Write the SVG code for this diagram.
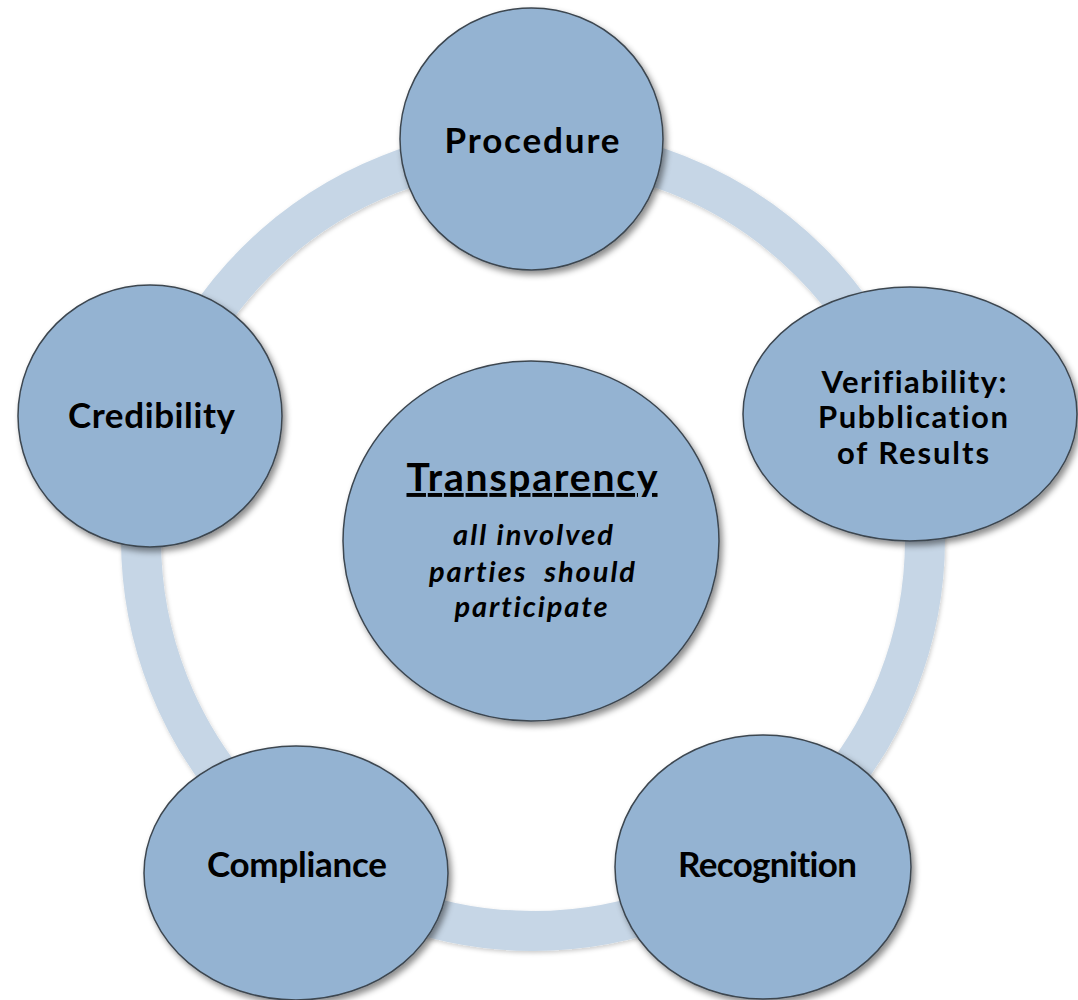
<svg xmlns="http://www.w3.org/2000/svg" width="1078" height="1000" viewBox="0 0 1078 1000">
  <defs>
    <filter id="shadow" x="-10%" y="-10%" width="125%" height="125%">
      <feDropShadow dx="3" dy="4" stdDeviation="3" flood-color="#000" flood-opacity="0.45"/>
    </filter>
    <filter id="ringShade" x="-5%" y="-5%" width="110%" height="110%">
      <feDropShadow dx="1" dy="2" stdDeviation="2" flood-color="#000" flood-opacity="0.2"/>
    </filter>
  </defs>
  <style>
    .node { fill: #94b3d2; stroke: #3c4650; stroke-width: 1.5; filter: url(#shadow); }
    .ring { fill: none; stroke: #c6d6e6; stroke-width: 40; filter: url(#ringShade); }
    .label { font-family: Lato, "Liberation Sans", sans-serif; font-weight: bold; font-size: 35px; fill: #000; text-anchor: middle; font-variant-ligatures: none; }
    .multi { font-size: 31px; }
    .title { font-size: 39px; text-decoration: underline; }
    .sub { font-style: italic; font-size: 29px; }
  </style>
  <rect width="1078" height="1000" fill="#fff"/>

  <!-- cycle ring linking the outer nodes -->
  <g id="connectors">
    <circle class="ring" cx="533" cy="539" r="392"/>
  </g>

  <g id="node-procedure">
    <ellipse class="node" cx="531.5" cy="139" rx="131.5" ry="131"/>
    <text class="label" x="532" y="153" textLength="175">Procedure</text>
  </g>

  <g id="node-verifiability">
    <ellipse class="node" cx="910" cy="414" rx="167" ry="127"/>
    <text class="label multi" x="914" y="393" textLength="185">Verifiability:</text>
    <text class="label multi" x="913" y="428" textLength="190">Pubblication</text>
    <text class="label multi" x="913" y="464" textLength="152">of Results</text>
  </g>

  <g id="node-recognition">
    <ellipse class="node" cx="763" cy="867" rx="148" ry="132"/>
    <text class="label" x="767.5" y="877" textLength="179">Recognition</text>
  </g>

  <g id="node-compliance">
    <ellipse class="node" cx="296" cy="873" rx="152" ry="127"/>
    <text class="label" x="297" y="877" textLength="180">Compliance</text>
  </g>

  <g id="node-credibility">
    <ellipse class="node" cx="150" cy="416" rx="132" ry="131"/>
    <text class="label" x="151.5" y="428" textLength="167">Credibility</text>
  </g>

  <g id="node-transparency">
    <ellipse class="node" cx="531" cy="541" rx="188" ry="180"/>
    <text class="label title" x="532" y="491" textLength="251">Transparency</text>
    <text class="label sub" x="533" y="545" textLength="160">all involved</text>
    <text class="label sub" x="532" y="582" textLength="206" xml:space="preserve">parties  should</text>
    <text class="label sub" x="531" y="617" textLength="153">participate</text>
  </g>
</svg>
